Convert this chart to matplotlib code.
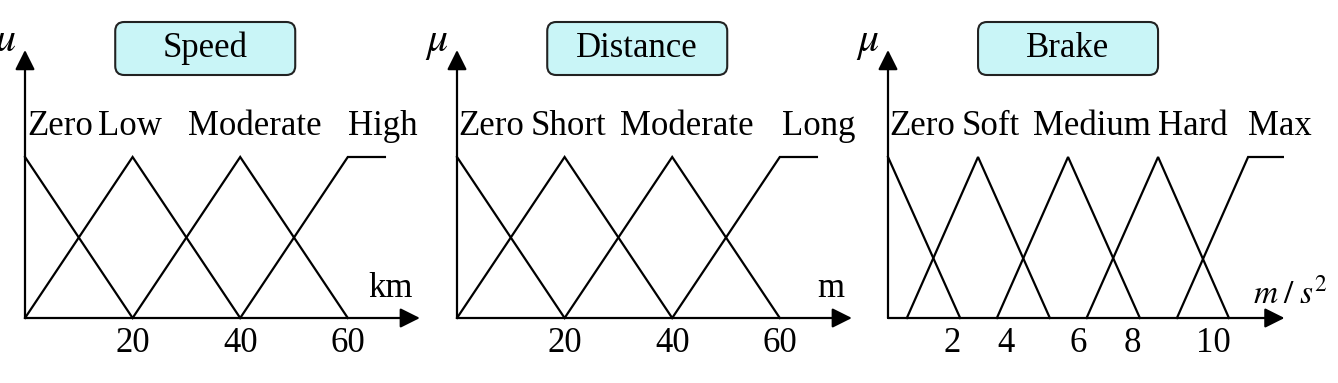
import matplotlib.pyplot as plt
from matplotlib.patches import FancyBboxPatch
from matplotlib.transforms import ScaledTranslation

plt.rcParams['font.family'] = ['Liberation Serif', 'DejaVu Serif']
plt.rcParams['mathtext.fontset'] = 'stix'

# --- Daten: Zugehoerigkeitsfunktionen (Eckpunkte) ---
speed_sets = ["Zero", "Low", "Moderate", "High"]
speed_x = [[0, 20], [0, 20, 40], [20, 40, 60], [40, 60, 66.9]]
speed_mu = [[1, 0], [0, 1, 0], [0, 1, 0], [0, 1, 1]]
speed_ticks = [20, 40, 60]
speed_tick_labels = ["20", "40", "60"]

distance_sets = ["Zero", "Short", "Moderate", "Long"]
distance_x = [[0, 20], [0, 20, 40], [20, 40, 60], [40, 60, 66.9]]
distance_mu = [[1, 0], [0, 1, 0], [0, 1, 0], [0, 1, 1]]
distance_ticks = [20, 40, 60]
distance_tick_labels = ["20", "40", "60"]

brake_sets = ["Zero", "Soft", "Medium", "Hard", "Max"]
brake_x = [[0, 2.22], [0.58, 2.77, 4.98], [3.35, 5.54, 7.75],
           [6.11, 8.31, 10.49], [8.89, 11.08, 12.15]]
brake_mu = [[1, 0], [0, 1, 0], [0, 1, 0], [0, 1, 0], [0, 1, 1]]
brake_ticks = [1.97, 3.63, 5.85, 7.51, 10.0]
brake_tick_labels = ["2", "4", "6", "8", "10"]

# --- Layout (Pixel bei dpi=100) ---
W, H = 1338, 383
Y0_PX = 318      # Pixelzeile der x-Achse
PX_PER_MU = 161  # Pixel fuer mu = 1
FS = 25
BOX_FACE = "#c9f5f7"


def draw_panel(ax, left_px, right_px, origin_px, ppu, sets, xs, mus,
               label_left, ticks, tick_labels, title, title_cx,
               unit, unit_x, unit_y, unit_fs, arrow_x):
    ax.set_xlim((left_px - origin_px) / ppu, (right_px - origin_px) / ppu)
    ax.set_ylim((Y0_PX - H) / PX_PER_MU, Y0_PX / PX_PER_MU)
    ax.axis("off")

    for x, m in zip(xs, mus):
        ax.plot(x, m, color="black", lw=1.6, solid_joinstyle="miter", clip_on=False)

    arrow = dict(arrowstyle="-|>", mutation_scale=30, lw=1.6, color="black",
                 shrinkA=0, shrinkB=0)
    ax.annotate("", xy=(0, (Y0_PX - 50) / PX_PER_MU), xytext=(0, 0), arrowprops=arrow)
    ax.annotate("", xy=(arrow_x, 0), xytext=(0, 0), arrowprops=arrow)

    # mu-Beschriftung (im linken Panel wie im Original am Rand angeschnitten)
    ax.text(-20 / ppu, (Y0_PX - 43) / PX_PER_MU, r"$\mu$", fontsize=30,
            ha="center", va="center", clip_on=False)

    for name, lx in zip(sets, label_left):
        ax.text(lx, 1.137, name, fontsize=FS, ha="left", va="baseline")

    for t, lbl in zip(ticks, tick_labels):
        ax.text(t, -0.211, lbl, fontsize=FS, ha="center", va="baseline")

    ax.text(unit_x, unit_y, unit, fontsize=unit_fs, ha="left", va="baseline")

    # Titelbox mit fester Groesse (in Zoll), zentriert auf einen Datenpunkt
    tr = fig.dpi_scale_trans + ScaledTranslation(title_cx, (Y0_PX - 48.5) / PX_PER_MU, ax.transData)
    box = FancyBboxPatch((-0.9, -0.265), 1.8, 0.53,
                         boxstyle="round,pad=0,rounding_size=0.09",
                         facecolor=BOX_FACE, edgecolor="#222222", lw=1.5,
                         transform=tr, clip_on=False)
    ax.add_patch(box)
    ax.text(0, 0, title, fontsize=FS, ha="center", va="center", transform=tr)


fig = plt.figure(figsize=(W / 100, H / 100), dpi=100)

ax1 = fig.add_axes([0, 0, 440 / W, 1])
draw_panel(ax1, 0, 440, 25, 5.38, speed_sets, speed_x, speed_mu,
           [0.4, 13.6, 30.3, 60.0], speed_ticks, speed_tick_labels,
           "Speed", 33.5, "km", 63.8, 0.13, FS, 73.4)

ax2 = fig.add_axes([440 / W, 0, 440 / W, 1])
draw_panel(ax2, 440, 880, 457, 5.38, distance_sets, distance_x, distance_mu,
           [0.2, 13.6, 30.3, 60.4], distance_ticks, distance_tick_labels,
           "Distance", 33.5, "m", 66.9, 0.13, FS, 73.4)

ax3 = fig.add_axes([850 / W, 0, 488 / W, 1])
draw_panel(ax3, 850, 1338, 888, 32.5, brake_sets, brake_x, brake_mu,
           [0.03, 2.28, 4.46, 8.31, 11.08], brake_ticks, brake_tick_labels,
           "Brake", 5.54, r"$m\;/\;s^2$", 11.23, 0.093, 24, 12.2)

fig.savefig("out.png", dpi=100)
